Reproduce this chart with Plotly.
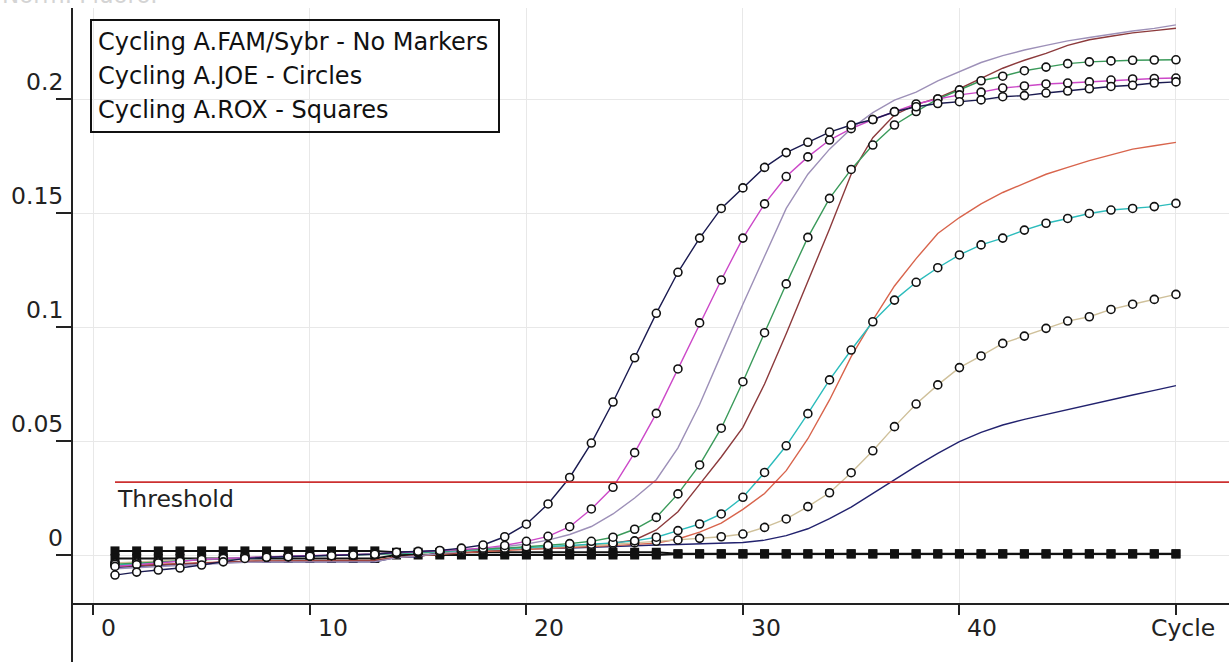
import plotly.graph_objects as go

cycles = list(range(1, 51))

# ---- FAM/Sybr (no markers) ----
fam_lavender = [-0.0060, -0.0055, -0.0050, -0.0045, -0.0040, -0.0035, -0.0032, -0.0031, -0.0030, -0.0030,
                -0.0030, -0.0030, -0.0029, -0.0012, -0.0004, 0.0005, 0.0015, 0.0025, 0.0035, 0.0048,
                0.0065, 0.0090, 0.0125, 0.0180, 0.0250, 0.0330, 0.0470, 0.0660, 0.0880, 0.1100,
                0.1310, 0.1520, 0.1670, 0.1780, 0.1870, 0.1940, 0.1995, 0.2030, 0.2080, 0.2120,
                0.2160, 0.2190, 0.2215, 0.2235, 0.2255, 0.2270, 0.2285, 0.2298, 0.2310, 0.2325]
fam_brown = [-0.0050, -0.0046, -0.0042, -0.0038, -0.0034, -0.0030, -0.0028, -0.0027, -0.0027, -0.0026,
             -0.0026, -0.0025, -0.0025, -0.0010, -0.0002, 0.0006, 0.0012, 0.0018, 0.0023, 0.0028,
             0.0033, 0.0038, 0.0044, 0.0052, 0.0066, 0.0110, 0.0190, 0.0310, 0.0430, 0.0560,
             0.0750, 0.0970, 0.1200, 0.1430, 0.1670, 0.1830, 0.1930, 0.1975, 0.2005, 0.2045,
             0.2090, 0.2135, 0.2170, 0.2200, 0.2235, 0.2260, 0.2275, 0.2290, 0.2300, 0.2310]
fam_orange = [-0.0048, -0.0044, -0.0040, -0.0036, -0.0032, -0.0029, -0.0027, -0.0026, -0.0025, -0.0025,
              -0.0024, -0.0024, -0.0023, -0.0010, -0.0003, 0.0004, 0.0010, 0.0015, 0.0020, 0.0025,
              0.0029, 0.0033, 0.0037, 0.0041, 0.0046, 0.0052, 0.0070, 0.0100, 0.0140, 0.0200,
              0.0270, 0.0370, 0.0510, 0.0680, 0.0870, 0.1030, 0.1180, 0.1300, 0.1410, 0.1480,
              0.1540, 0.1590, 0.1630, 0.1670, 0.1700, 0.1730, 0.1755, 0.1780, 0.1795, 0.1810]
fam_navy = [-0.0055, -0.0050, -0.0045, -0.0040, -0.0035, -0.0032, -0.0031, -0.0030, -0.0030, -0.0030,
            -0.0030, -0.0030, -0.0030, -0.0010, -0.0008, 0.0012, 0.0022, 0.0025, 0.0026, 0.0027,
            0.0028, 0.0030, 0.0034, 0.0038, 0.0041, 0.0044, 0.0046, 0.0048, 0.0050, 0.0055,
            0.0065, 0.0085, 0.0115, 0.0160, 0.0210, 0.0270, 0.0329, 0.0390, 0.0446, 0.0497,
            0.0538, 0.0570, 0.0595, 0.0617, 0.0636, 0.0658, 0.0680, 0.0702, 0.0722, 0.0743]

# ---- JOE (circles) ----
joe_navy = [-0.0088, -0.0075, -0.0066, -0.0057, -0.0044, -0.0030, -0.0015, -0.0010, -0.0008, -0.0005,
            -0.0003, 0.0000, 0.0003, 0.0012, 0.0016, 0.0020, 0.0030, 0.0044, 0.0080, 0.0135,
            0.0224, 0.0340, 0.0491, 0.0671, 0.0865, 0.1060, 0.1240, 0.1390, 0.1520, 0.1610,
            0.1700, 0.1765, 0.1810, 0.1855, 0.1886, 0.1910, 0.1944, 0.1966, 0.1980, 0.1988,
            0.1996, 0.2010, 0.2015, 0.2026, 0.2035, 0.2045, 0.2055, 0.2060, 0.2070, 0.2075]
joe_magenta = [-0.0050, -0.0042, -0.0035, -0.0028, -0.0020, -0.0015, -0.0010, -0.0008, -0.0005, -0.0003,
               0.0000, 0.0003, 0.0005, 0.0010, 0.0014, 0.0018, 0.0024, 0.0030, 0.0042, 0.0060,
               0.0082, 0.0124, 0.0202, 0.0297, 0.0449, 0.0621, 0.0816, 0.1018, 0.1206, 0.1390,
               0.1540, 0.1660, 0.1746, 0.1820, 0.1870, 0.1910, 0.1945, 0.1978, 0.2000, 0.2018,
               0.2030, 0.2048, 0.2057, 0.2066, 0.2070, 0.2075, 0.2083, 0.2088, 0.2090, 0.2092]
joe_green = [-0.0040, -0.0035, -0.0030, -0.0025, -0.0020, -0.0015, -0.0010, -0.0008, -0.0006, -0.0004,
             -0.0002, 0.0000, 0.0003, 0.0008, 0.0012, 0.0016, 0.0020, 0.0025, 0.0030, 0.0036,
             0.0042, 0.0050, 0.0060, 0.0078, 0.0113, 0.0165, 0.0268, 0.0395, 0.0556, 0.0760,
             0.0975, 0.1189, 0.1393, 0.1564, 0.1691, 0.1798, 0.1886, 0.1945, 0.2000, 0.2040,
             0.2080, 0.2100, 0.2124, 0.2140, 0.2155, 0.2163, 0.2167, 0.2170, 0.2171, 0.2172]
joe_cyan = [-0.0045, -0.0038, -0.0032, -0.0026, -0.0020, -0.0016, -0.0012, -0.0009, -0.0006, -0.0004,
            -0.0002, 0.0000, 0.0002, 0.0006, 0.0010, 0.0014, 0.0018, 0.0022, 0.0027, 0.0032,
            0.0037, 0.0042, 0.0047, 0.0053, 0.0062, 0.0078, 0.0107, 0.0136, 0.0180, 0.0253,
            0.0362, 0.0479, 0.0620, 0.0768, 0.0899, 0.1023, 0.1118, 0.1196, 0.1260, 0.1316,
            0.1360, 0.1390, 0.1425, 0.1455, 0.1476, 0.1498, 0.1513, 0.1520, 0.1528, 0.1542]
joe_tan = [-0.0035, -0.0030, -0.0026, -0.0022, -0.0018, -0.0014, -0.0010, -0.0008, -0.0006, -0.0004,
           -0.0002, 0.0000, 0.0002, 0.0005, 0.0009, 0.0013, 0.0017, 0.0021, 0.0025, 0.0030,
           0.0034, 0.0038, 0.0042, 0.0047, 0.0053, 0.0060, 0.0066, 0.0073, 0.0080, 0.0092,
           0.0121, 0.0158, 0.0212, 0.0273, 0.0361, 0.0457, 0.0563, 0.0662, 0.0746, 0.0822,
           0.0873, 0.0928, 0.0960, 0.0994, 0.1026, 0.1045, 0.1077, 0.1100, 0.1121, 0.1143]

# ---- ROX (squares) ----
rox_a = [0.0018, 0.0018, 0.0018, 0.0018, 0.0018, 0.0018, 0.0018, 0.0018, 0.0018, 0.0018,
         0.0018, 0.0018, 0.0018, 0.0012, 0.0012, 0.0012, 0.0012, 0.0012, 0.0012, 0.0012,
         0.0012, 0.0012, 0.0012, 0.0012, 0.0012, 0.0012, 0.0006, 0.0006, 0.0006, 0.0006,
         0.0006, 0.0006, 0.0006, 0.0006, 0.0006, 0.0006, 0.0006, 0.0006, 0.0006, 0.0006,
         0.0006, 0.0006, 0.0006, 0.0006, 0.0006, 0.0006, 0.0006, 0.0006, 0.0006, 0.0006]
rox_b = [-0.0015, -0.0015, -0.0015, -0.0015, -0.0015, -0.0015, -0.0015, -0.0015, -0.0015, -0.0015,
         -0.0015, -0.0015, -0.0015, 0.0000, 0.0000, 0.0000, 0.0000, 0.0000, 0.0000, 0.0000,
         0.0000, 0.0000, 0.0000, 0.0000, 0.0000, 0.0000, 0.0004, 0.0004, 0.0004, 0.0004,
         0.0004, 0.0004, 0.0004, 0.0004, 0.0004, 0.0004, 0.0004, 0.0004, 0.0004, 0.0004,
         0.0004, 0.0004, 0.0004, 0.0004, 0.0004, 0.0004, 0.0004, 0.0004, 0.0004, 0.0004]

threshold_value = 0.032
threshold_x = [1, 53]

x_ticks = [0, 10, 20, 30, 40, 50]
x_tick_labels = ["0", "10", "20", "30", "40", "Cycle"]
y_ticks = [0, 0.05, 0.1, 0.15, 0.2]
y_tick_labels = ["0", "0.05", "0.1", "0.15", "0.2"]
legend_lines = ["Cycling A.FAM/Sybr - No Markers", "Cycling A.JOE - Circles", "Cycling A.ROX - Squares"]

FONT = "DejaVu Sans"
W, H = 1229, 662
ML, MR, MT, MB = 72, 0, 8, 59
PW, PH = W - ML - MR, H - MT - MB


def px(xp):
    return (xp - ML) / PW


def py(yp):
    return (H - MB - yp) / PH


fig = go.Figure()

for ys in (rox_a, rox_b):
    fig.add_trace(go.Scatter(x=cycles, y=ys, mode="lines+markers",
                             line=dict(color="#111111", width=2),
                             marker=dict(symbol="square", size=9, color="#111111")))

fam = [(fam_navy, "#22226e"), (fam_orange, "#d8644c"), (fam_brown, "#8c3a3c"), (fam_lavender, "#9d90b8")]
for ys, c in fam:
    fig.add_trace(go.Scatter(x=cycles, y=ys, mode="lines", line=dict(color=c, width=1.4)))

joe = [(joe_tan, "#cfc09a"), (joe_cyan, "#2cbcbc"), (joe_green, "#3a9a5a"),
       (joe_magenta, "#cc48c8"), (joe_navy, "#1a1a50")]
for ys, c in joe:
    fig.add_trace(go.Scatter(x=cycles, y=ys, mode="lines+markers",
                             line=dict(color=c, width=1.4),
                             marker=dict(symbol="circle", size=8, color="white",
                                         line=dict(color="#111111", width=1.6))))

fig.add_trace(go.Scatter(x=threshold_x, y=[threshold_value, threshold_value], mode="lines",
                         line=dict(color="#cc3030", width=1.8)))

annotations = []
for v, t in zip(x_ticks, x_tick_labels):
    if t == "Cycle":
        annotations.append(dict(x=v, y=0, xref="x", yref="paper", text=t, showarrow=False,
                                xanchor="center", yanchor="top", xshift=7, yshift=-9))
    else:
        annotations.append(dict(x=v, y=0, xref="x", yref="paper", text=t, showarrow=False,
                                xanchor="left", yanchor="top", xshift=6, yshift=-9))
for v, t in zip(y_ticks, y_tick_labels):
    annotations.append(dict(x=0, y=v, xref="paper", yref="y", text=t, showarrow=False,
                            xanchor="right", yanchor="middle", xshift=-7, yshift=17))

for i, t in enumerate(legend_lines):
    annotations.append(dict(x=px(96), y=py(42 + 34 * i), xref="paper", yref="paper", text=t,
                            showarrow=False, xanchor="left", yanchor="middle",
                            font=dict(family=FONT, size=24, color="#111111")))

annotations.append(dict(x=threshold_x[0], y=threshold_value, xref="x", yref="y", text="Threshold",
                        showarrow=False, xanchor="left", yanchor="middle", xshift=0, yshift=-17,
                        font=dict(family=FONT, size=23.5, color="#222222")))
annotations.append(dict(x=px(0), y=1, xref="paper", yref="paper", text="Norm. Fluoro.",
                        showarrow=False, xanchor="left", yanchor="bottom", yshift=-2,
                        font=dict(family=FONT, size=23, color="#d4d4d4")))

shapes = [
    dict(type="rect", xref="paper", yref="paper", x0=px(91), x1=px(499), y0=py(132), y1=py(20),
         line=dict(color="#111111", width=2), fillcolor="rgba(0,0,0,0)"),
    dict(type="line", xref="paper", yref="paper", x0=0, x1=0, y0=py(H), y1=1,
         line=dict(color="#222222", width=2)),
]

fig.update_layout(
    width=W, height=H,
    margin=dict(l=ML, r=MR, t=MT, b=MB, pad=0),
    plot_bgcolor="white", paper_bgcolor="white",
    showlegend=False,
    font=dict(family=FONT, size=23.5, color="#222222"),
    annotations=annotations, shapes=shapes,
    xaxis=dict(range=[-0.986, 52.45], tickvals=x_ticks, showticklabels=False,
               ticks="outside", ticklen=10, tickwidth=2, tickcolor="#222222",
               showgrid=True, gridcolor="#e8e8e8", gridwidth=1,
               showline=True, linecolor="#222222", linewidth=2, zeroline=False),
    yaxis=dict(range=[-0.02105, 0.23991], tickvals=y_ticks, showticklabels=False,
               ticks="outside", ticklen=15, tickwidth=2, tickcolor="#222222",
               showgrid=True, gridcolor="#e8e8e8", gridwidth=1,
               showline=False, zeroline=False),
)

fig.write_html("out.html", config={"displayModeBar": False},
               post_script="document.body.style.margin='0px';document.body.style.overflow='hidden';")
